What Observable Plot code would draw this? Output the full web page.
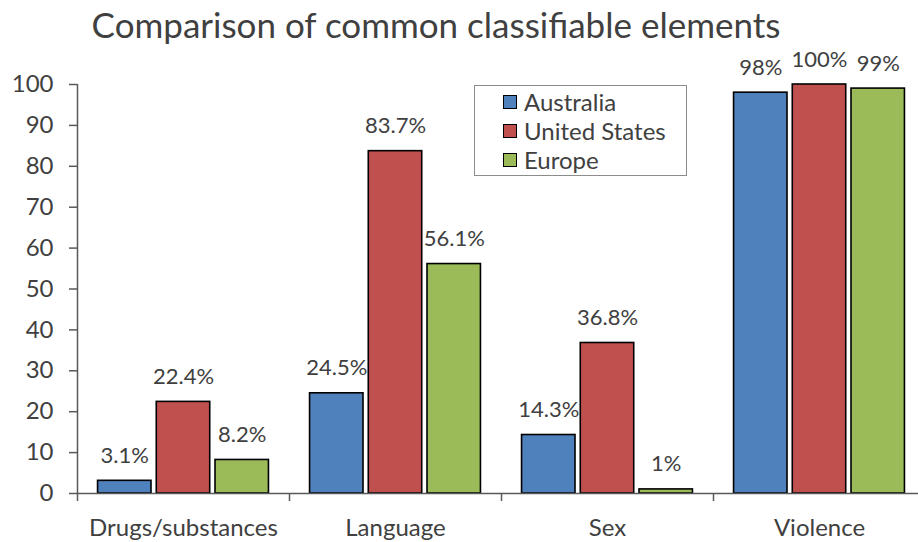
<!DOCTYPE html>
<html>
<head>
<meta charset="utf-8">
<script src="https://cdn.jsdelivr.net/npm/d3@7"></script>
<script src="https://cdn.jsdelivr.net/npm/@observablehq/plot@0.6"></script>
<style>
  html, body { margin: 0; padding: 0; background: #fff; overflow: hidden; }
  #wrap { position: relative; width: 918px; height: 542px; overflow: hidden; font-family: Lato, "Open Sans", sans-serif; color: #404040; }
  #title { position: absolute; left: 0; top: 0; width: 872px; height: 50px; text-align: center; font-size: 35px; line-height: 48px; }
  #chart { position: absolute; left: 0; top: 50px; width: 925px; }
  #chart svg { max-width: none !important; }
  #legend { position: absolute; left: 474px; top: 85px; width: 213px; height: 91px; border: 1.5px solid #8c8c8c; background: #fff; box-sizing: border-box; }
  .item { position: absolute; left: 28px; font-size: 24px; line-height: 28px; height: 28px; display: flex; align-items: center; }
  .sw { width: 12px; height: 12px; border: 1.5px solid #000; margin-right: 7px; }
</style>
</head>
<body>
<div id="wrap">
  <div id="title">Comparison of common classifiable elements</div>
  <div id="chart"></div>
  <div id="legend"></div>
</div>
<script>
const categories = ["Drugs/substances", "Language", "Sex", "Violence"];
const series = ["Australia", "United States", "Europe"];
const colors = ["#4F81BD", "#C0504D", "#9BBB59"];
const australia = [3.1, 24.5, 14.3, 98];
const unitedStates = [22.4, 83.7, 36.8, 100];
const europe = [8.2, 56.1, 1, 99];
const yTicks = [0, 10, 20, 30, 40, 50, 60, 70, 80, 90, 100];

const valuesBySeries = [australia, unitedStates, europe];
const inner = d3.scaleBand().domain(series).range([0, 1]).paddingInner(0.09).paddingOuter(0.35);
const rows = [];
categories.forEach((c, ci) => {
  series.forEach((s, si) => {
    const v = valuesBySeries[si][ci];
    const x1 = ci + inner(s);
    rows.push({category: c, series: s, value: v, x1, x2: x1 + inner.bandwidth(), xm: x1 + inner.bandwidth() / 2, label: v + "%"});
  });
});

const chart = Plot.plot({
  width: 925,
  height: 492,
  marginLeft: 77,
  marginRight: 0,
  marginTop: 34,
  marginBottom: 49,
  style: {fontFamily: "Lato, 'Open Sans', sans-serif", color: "#404040", background: "#fff", overflow: "visible"},
  x: {domain: [0, 4], axis: null},
  y: {domain: [0, 100], axis: null},
  color: {domain: series, range: colors},
  marks: [
    Plot.rectY(rows, {x1: "x1", x2: "x2", y: "value", fill: "series", stroke: "#000", strokeWidth: 1.6}),
    Plot.text(rows, {x: "xm", y: "value", text: "label", dy: -25, fontSize: 22, fill: "#404040"}),
    Plot.ruleY([0], {stroke: "#595959", strokeWidth: 1.5}),
    Plot.ruleX([0], {stroke: "#595959", strokeWidth: 1.5}),
    Plot.axisY({ticks: yTicks, tickSize: 8, tickPadding: 16, fontSize: 24, stroke: "#595959", strokeWidth: 1.5, label: null, color: "#404040"}),
    Plot.axisX({ticks: [0, 1, 2, 3, 4], tickSize: 8, tickFormat: () => "", stroke: "#595959", strokeWidth: 1.5, label: null}),
    Plot.text(categories, {x: (d, i) => i + 0.5, y: 0, text: d => d, dy: 35, fontSize: 24, fill: "#404040"})
  ]
});
chart.style.maxWidth = "none";
document.getElementById("chart").appendChild(chart);

const legend = document.getElementById("legend");
series.forEach((s, i) => {
  const item = document.createElement("div");
  item.className = "item";
  item.style.top = (2 + i * 29) + "px";
  const sw = document.createElement("div");
  sw.className = "sw";
  sw.style.background = colors[i];
  item.appendChild(sw);
  item.appendChild(document.createTextNode(s));
  legend.appendChild(item);
});
</script>
</body>
</html>
